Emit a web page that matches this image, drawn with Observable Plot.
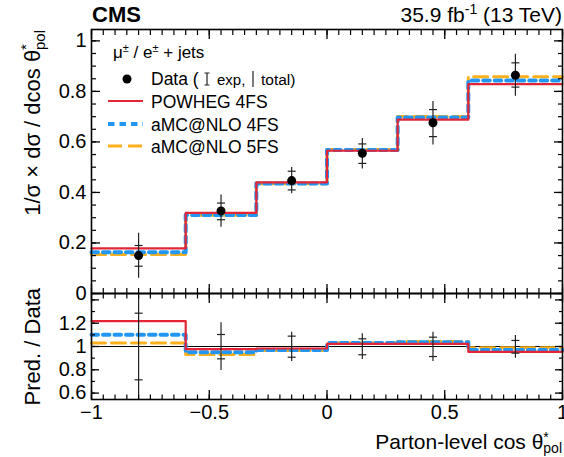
<!DOCTYPE html>
<html><head><meta charset="utf-8">
<script src="https://cdn.jsdelivr.net/npm/d3@7"></script>
<script src="https://cdn.jsdelivr.net/npm/@observablehq/plot@0.6"></script>
<style>
body{margin:0;background:#fff;}
#wrap{position:relative;width:564px;height:457px;overflow:hidden;}
</style></head><body><div id="wrap"></div>
<script>
// ---- data ----
const edges = [-1, -0.6, -0.3, 0, 0.3, 0.6, 1];
const centers = [-0.8, -0.45, -0.15, 0.15, 0.45, 0.8];
const dataVal = [0.150, 0.327, 0.447, 0.555, 0.676, 0.864];
const expLo = [0.108, 0.292, 0.410, 0.515, 0.621, 0.817];
const expHi = [0.190, 0.358, 0.484, 0.592, 0.728, 0.913];
const totLo = [0.060, 0.262, 0.395, 0.493, 0.588, 0.781];
const totHi = [0.238, 0.390, 0.499, 0.614, 0.760, 0.947];
const powheg = [0.179, 0.319, 0.440, 0.565, 0.688, 0.829];
const amc4 = [0.163, 0.311, 0.435, 0.568, 0.697, 0.843];
const amc5 = [0.154, 0.310, 0.434, 0.570, 0.701, 0.858];
const rPowheg = [1.217, 0.977, 0.983, 1.023, 1.023, 0.954];
const rAmc4 = [1.100, 0.951, 0.971, 1.029, 1.037, 0.971];
const rAmc5 = [1.030, 0.931, 0.966, 1.029, 1.043, 0.989];
const rExpLo = [0.714, 0.894, 0.908, 0.929, 0.914, 0.943];
const rExpHi = [1.286, 1.103, 1.089, 1.066, 1.080, 1.052];
const rTotLo = [0.400, 0.794, 0.871, 0.888, 0.871, 0.900];
const rTotHi = [1.600, 1.203, 1.123, 1.109, 1.123, 1.094];
const xTickLabels = [-1, -0.5, 0, 0.5, 1];
const yTickLabelsTop = [0, 0.2, 0.4, 0.6, 0.8, 1];
const yTickLabelsRatio = [0.6, 0.8, 1, 1.2];
const legendLabels = ["POWHEG 4FS", "aMC@NLO 4FS", "aMC@NLO 5FS"];

// ---- styling ----
const FONT = '"Liberation Sans", Arial, Helvetica, sans-serif';
const RED = "#e42536", BLUE = "#2196f3", ORANGE = "#fbb01c";
const W = 564, ML = 91, MR = 2;
const styles = [
  {stroke: ORANGE, strokeWidth: 3, strokeDasharray: "14,6"},
  {stroke: BLUE, strokeWidth: 4, strokeDasharray: "6.5,5"},
  {stroke: RED, strokeWidth: 2.2}
];

const seq = (a, b, s) => d3.range(Math.round((b - a) / s) + 1).map(i => +(a + i * s).toFixed(4));
const xMinor = seq(-1, 1, 0.05), xMajor = seq(-1, 1, 0.5);
const yMinorTop = seq(0, 1.0, 0.05), yMajorTop = seq(0, 1, 0.2);
const yMinorR = seq(0.6, 1.4, 0.1), yMajorR = seq(0.6, 1.4, 0.2);
const fmt = d => d3.format("~g")(d);

const steps = vals => edges.map((e, i) => ({x: e, y: vals[Math.min(i, vals.length - 1)]}));
const rows = (lo, hi) => centers.map((c, i) => ({x: c, lo: lo[i], hi: hi[i]}));
const caps = (lo, hi) => centers.flatMap((c, i) => [{x: c, y: lo[i]}, {x: c, y: hi[i]}]);
const capSym = {draw(ctx, size) { const w = Math.sqrt(size / Math.PI); ctx.moveTo(-w, 0); ctx.lineTo(w, 0); }};

function tickMarks(xs, ys, xMaj, xMin, yMaj, yMin) {
  const m = [];
  for (const a of ["top", "bottom"]) {
    m.push(Plot.axisX({anchor: a, ticks: xs.minor, tickSize: -xMin, tickFormat: () => "", label: null, strokeWidth: 1.2}));
    m.push(Plot.axisX({anchor: a, ticks: xs.major, tickSize: -xMaj, tickFormat: () => "", label: null, strokeWidth: 1.3}));
  }
  for (const a of ["left", "right"]) {
    m.push(Plot.axisY({anchor: a, ticks: ys.minor, tickSize: -yMin, tickFormat: () => "", label: null, strokeWidth: 1.2}));
    m.push(Plot.axisY({anchor: a, ticks: ys.major, tickSize: -yMaj, tickFormat: () => "", label: null, strokeWidth: 1.3}));
  }
  return m;
}

const baseStyle = {fontFamily: FONT, fontSize: "20px", background: "transparent", overflow: "visible", color: "black"};

const topPlot = Plot.plot({
  width: W, height: 293, marginTop: 29, marginBottom: 0, marginLeft: ML, marginRight: MR,
  style: baseStyle,
  x: {domain: [-1, 1]},
  y: {domain: [0, 1.045]},
  marks: [
    Plot.line(steps(amc5), {x: "x", y: "y", curve: "step-after", ...styles[0]}),
    Plot.line(steps(amc4), {x: "x", y: "y", curve: "step-after", ...styles[1]}),
    Plot.line(steps(powheg), {x: "x", y: "y", curve: "step-after", ...styles[2]}),
    Plot.ruleX(rows(totLo, totHi), {x: "x", y1: "lo", y2: "hi", stroke: "#222", strokeWidth: 1.2}),
    Plot.dot(caps(expLo, expHi), {x: "x", y: "y", symbol: capSym, r: 4, stroke: "#222", fill: "none", strokeWidth: 1.2}),
    Plot.dot(centers.map((c, i) => ({x: c, y: dataVal[i]})), {x: "x", y: "y", r: 4.5, fill: "black"}),
    ...tickMarks({minor: xMinor, major: xMajor}, {minor: yMinorTop, major: yMajorTop}, 9, 5, 9, 5),
    Plot.axisY({anchor: "left", ticks: yTickLabelsTop, tickSize: 0, tickPadding: 5, tickFormat: fmt, label: null}),
    Plot.frame({stroke: "black", strokeWidth: 1.6})
  ]
});

const ratioPlot = Plot.plot({
  width: W, height: 164, marginTop: 0, marginBottom: 58, marginLeft: ML, marginRight: MR,
  style: baseStyle,
  x: {domain: [-1, 1]},
  y: {domain: [0.545, 1.455]},
  marks: [
    Plot.ruleY([1], {stroke: "black", strokeWidth: 1}),
    Plot.line(steps(rAmc5), {x: "x", y: "y", curve: "step-after", ...styles[0]}),
    Plot.line(steps(rAmc4), {x: "x", y: "y", curve: "step-after", ...styles[1]}),
    Plot.line(steps(rPowheg), {x: "x", y: "y", curve: "step-after", ...styles[2]}),
    Plot.ruleX(rows(rTotLo, rTotHi), {x: "x", y1: "lo", y2: "hi", stroke: "#222", strokeWidth: 1.2, clip: true}),
    Plot.dot(caps(rExpLo, rExpHi), {x: "x", y: "y", symbol: capSym, r: 4, stroke: "#222", fill: "none", strokeWidth: 1.2}),
    ...tickMarks({minor: xMinor, major: xMajor}, {minor: yMinorR, major: yMajorR}, 9, 4.5, 8, 4),
    Plot.axisY({anchor: "left", ticks: yTickLabelsRatio, tickSize: 0, tickPadding: 5, tickFormat: fmt, label: null}),
    Plot.axisX({anchor: "bottom", ticks: xTickLabels, tickSize: 0, tickPadding: 5, tickFormat: fmt, label: null}),
    Plot.frame({stroke: "black", strokeWidth: 1.6})
  ]
});

const wrap = document.getElementById("wrap");
for (const [svg, top] of [[topPlot, 0], [ratioPlot, 293]]) {
  svg.style.position = "absolute"; svg.style.left = "0px"; svg.style.top = top + "px";
  wrap.appendChild(svg);
}

// ---- text helpers ----
function addText(svg, {x, y, anchor = "start", size, weight = "normal", rotate = 0, parts}) {
  const t = d3.select(svg).append("text")
    .attr("font-family", FONT).attr("font-size", size).attr("font-weight", weight)
    .attr("text-anchor", anchor).attr("fill", "black")
    .attr("transform", `translate(${x},${y}) rotate(${rotate})`);
  for (const p of parts) {
    const ts = t.append("tspan").text(p.t);
    if (p.s) ts.attr("font-size", p.s);
    if (p.dx != null) ts.attr("dx", p.dx);
    if (p.dy != null) ts.attr("dy", p.dy);
  }
  return t;
}

// header
addText(topPlot, {x: 92, y: 22, size: 22, weight: "bold", parts: [{t: "CMS"}]});
addText(topPlot, {x: 562, y: 22, anchor: "end", size: 21, parts: [{t: "35.9 fb"}, {t: "-1", s: 14, dy: -8}, {t: " (13 TeV)", dy: 8}]});
// y titles
addText(topPlot, {x: 40, y: 30, anchor: "end", size: 22, rotate: -90,
  parts: [{t: "1/σ × dσ / dcos θ"}, {t: "*", s: 15, dy: -9}, {t: "pol", s: 15, dx: -6, dy: 14}]});
addText(ratioPlot, {x: 40, y: -5, anchor: "end", size: 22, rotate: -90, parts: [{t: "Pred. / Data"}]});
// x title
addText(ratioPlot, {x: 562, y: 156, anchor: "end", size: 21,
  parts: [{t: "Parton-level cos θ"}, {t: "*", s: 14, dy: -7}, {t: "pol", s: 14, dx: -5.5, dy: 11}]});

// legend
const lg = d3.select(topPlot).append("g");
addText(topPlot, {x: 113, y: 58, size: 17, parts: [{t: "μ"}, {t: "±", s: 11, dy: -6}, {t: " / e", dy: 6}, {t: "±", s: 11, dy: -6}, {t: " + jets", dy: 6}]});
lg.append("circle").attr("cx", 127).attr("cy", 79).attr("r", 4.5).attr("fill", "black");
addText(topPlot, {x: 151, y: 85, size: 17.5, parts: [{t: "Data ("}]});
lg.append("path").attr("d", "M207,73V85M204.5,73H209.5M204.5,85H209.5").attr("stroke", "#222").attr("stroke-width", 1.2).attr("fill", "none");
addText(topPlot, {x: 217, y: 85, size: 15, parts: [{t: "exp,"}]});
lg.append("path").attr("d", "M253,71V87").attr("stroke", "#222").attr("stroke-width", 1.2);
addText(topPlot, {x: 261, y: 85, size: 15.5, parts: [{t: "total)"}]});
const legRows = [101, 124, 146];
const legStyles = [styles[2], styles[1], styles[0]];
legRows.forEach((yy, i) => {
  const s = legStyles[i];
  lg.append("line").attr("x1", 108).attr("x2", 143).attr("y1", yy).attr("y2", yy)
    .attr("stroke", s.stroke).attr("stroke-width", s.strokeWidth).attr("stroke-dasharray", s.strokeDasharray || null);
  addText(topPlot, {x: 151, y: yy + 6.5, size: 17.5, parts: [{t: legendLabels[i]}]});
});
</script></body></html>
